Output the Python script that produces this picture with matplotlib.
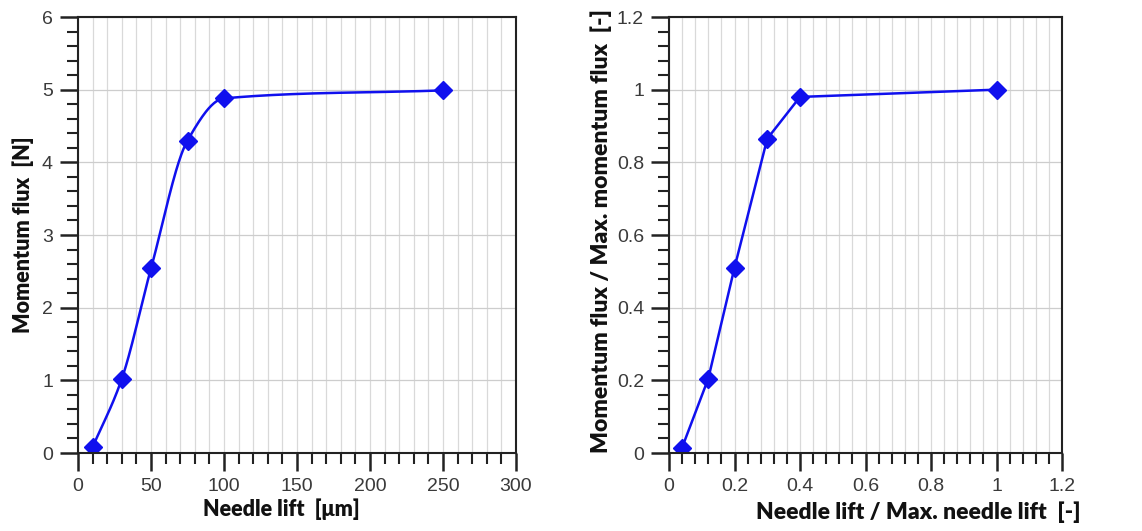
import numpy as np
import matplotlib.pyplot as plt
from matplotlib.ticker import MultipleLocator

# Absolute values (left panel)
lift_um = [10, 30, 50, 75, 100, 250]
flux_N = [0.08, 1.02, 2.54, 4.30, 4.88, 4.99]

# Normalised values (right panel)
lift_rel = [0.04, 0.12, 0.20, 0.30, 0.40, 1.00]
flux_rel = [0.015, 0.205, 0.51, 0.865, 0.98, 1.00]
rel_ticks = [0, 0.2, 0.4, 0.6, 0.8, 1.0, 1.2]
rel_labels = ['0', '0.2', '0.4', '0.6', '0.8', '1', '1.2']

BLUE = '#1010ee'
plt.rcParams['font.family'] = ['Liberation Sans', 'DejaVu Sans']
LABEL_FONT = ['Lato', 'DejaVu Sans']


def pchip(x, y, n=400):
    """monotone cubic curve through the points (Fritsch-Carlson)"""
    x = np.asarray(x, float)
    y = np.asarray(y, float)
    h = np.diff(x)
    delta = np.diff(y) / h
    k = len(x)
    m = np.zeros(k)
    for i in range(1, k - 1):
        if delta[i - 1] * delta[i] > 0:
            w1 = 2 * h[i] + h[i - 1]
            w2 = h[i] + 2 * h[i - 1]
            m[i] = (w1 + w2) / (w1 / delta[i - 1] + w2 / delta[i])
    m[0] = delta[0]
    m[-1] = delta[-1]
    xs = np.linspace(x[0], x[-1], n)
    ys = np.empty_like(xs)
    for j, xv in enumerate(xs):
        i = min(np.searchsorted(x, xv, side='right') - 1, k - 2)
        t = (xv - x[i]) / h[i]
        h00 = 2 * t ** 3 - 3 * t ** 2 + 1
        h10 = t ** 3 - 2 * t ** 2 + t
        h01 = -2 * t ** 3 + 3 * t ** 2
        h11 = t ** 3 - t ** 2
        ys[j] = h00 * y[i] + h10 * h[i] * m[i] + h01 * y[i + 1] + h11 * h[i] * m[i + 1]
    return xs, ys


def style_axes(ax):
    ax.grid(which='both', axis='x', color='#d9d9d9', lw=0.9)
    ax.grid(which='major', axis='y', color='#cdcdcd', lw=0.9)
    ax.set_axisbelow(True)
    ax.tick_params(which='major', direction='out', length=13, width=1.8,
                   labelsize=14, pad=5, color='#222222', labelcolor='#3a3a3a')
    ax.tick_params(which='minor', direction='out', length=8, width=1.5,
                   color='#222222')
    for s in ax.spines.values():
        s.set_linewidth(1.5)
        s.set_color('#222222')


fig = plt.figure(figsize=(11.42, 5.31), dpi=100)
ax1 = fig.add_axes([78 / 1142, 1 - 453 / 531, 438 / 1142, 436 / 531])
ax2 = fig.add_axes([669 / 1142, 1 - 453 / 531, 393 / 1142, 436 / 531])

# left panel
xs, ys = pchip(lift_um, flux_N)
ax1.plot(xs, ys, color=BLUE, lw=1.8)
ax1.plot(lift_um, flux_N, ls='none', marker='D', ms=9, color=BLUE)
ax1.set_xlim(0, 300)
ax1.set_ylim(0, 6)
ax1.xaxis.set_major_locator(MultipleLocator(50))
ax1.xaxis.set_minor_locator(MultipleLocator(10))
ax1.yaxis.set_major_locator(MultipleLocator(1))
ax1.yaxis.set_minor_locator(MultipleLocator(0.2))
style_axes(ax1)
ax1.set_xlabel('Needle lift  [\u03bcm]', fontsize=15.5, fontweight='heavy',
               family=LABEL_FONT, color='#111111')
ax1.set_ylabel('Momentum flux  [N]', fontsize=15.5, fontweight='heavy',
               family=LABEL_FONT, color='#111111')
ax1.xaxis.set_label_coords(0.465, -0.105)
ax1.yaxis.set_label_coords(-0.1, 0.5)

# right panel
ax2.plot(lift_rel, flux_rel, color=BLUE, lw=1.8, marker='D', ms=9)
ax2.set_xlim(0, 1.2)
ax2.set_ylim(0, 1.2)
ax2.set_xticks(rel_ticks)
ax2.set_xticklabels(rel_labels)
ax2.set_yticks(rel_ticks)
ax2.set_yticklabels(rel_labels)
ax2.xaxis.set_minor_locator(MultipleLocator(0.04))
ax2.yaxis.set_minor_locator(MultipleLocator(0.04))
style_axes(ax2)
ax2.set_xlabel('Needle lift / Max. needle lift  [-]', fontsize=16.5,
               fontweight='heavy', family=LABEL_FONT, color='#111111')
ax2.set_ylabel('Momentum flux / Max. momentum flux  [-]', fontsize=16.5,
               fontweight='heavy', family=LABEL_FONT, color='#111111')
ax2.xaxis.set_label_coords(0.635, -0.11)
ax2.yaxis.set_label_coords(-0.145, 0.51)

fig.savefig('out.png', dpi=100, facecolor='white')
